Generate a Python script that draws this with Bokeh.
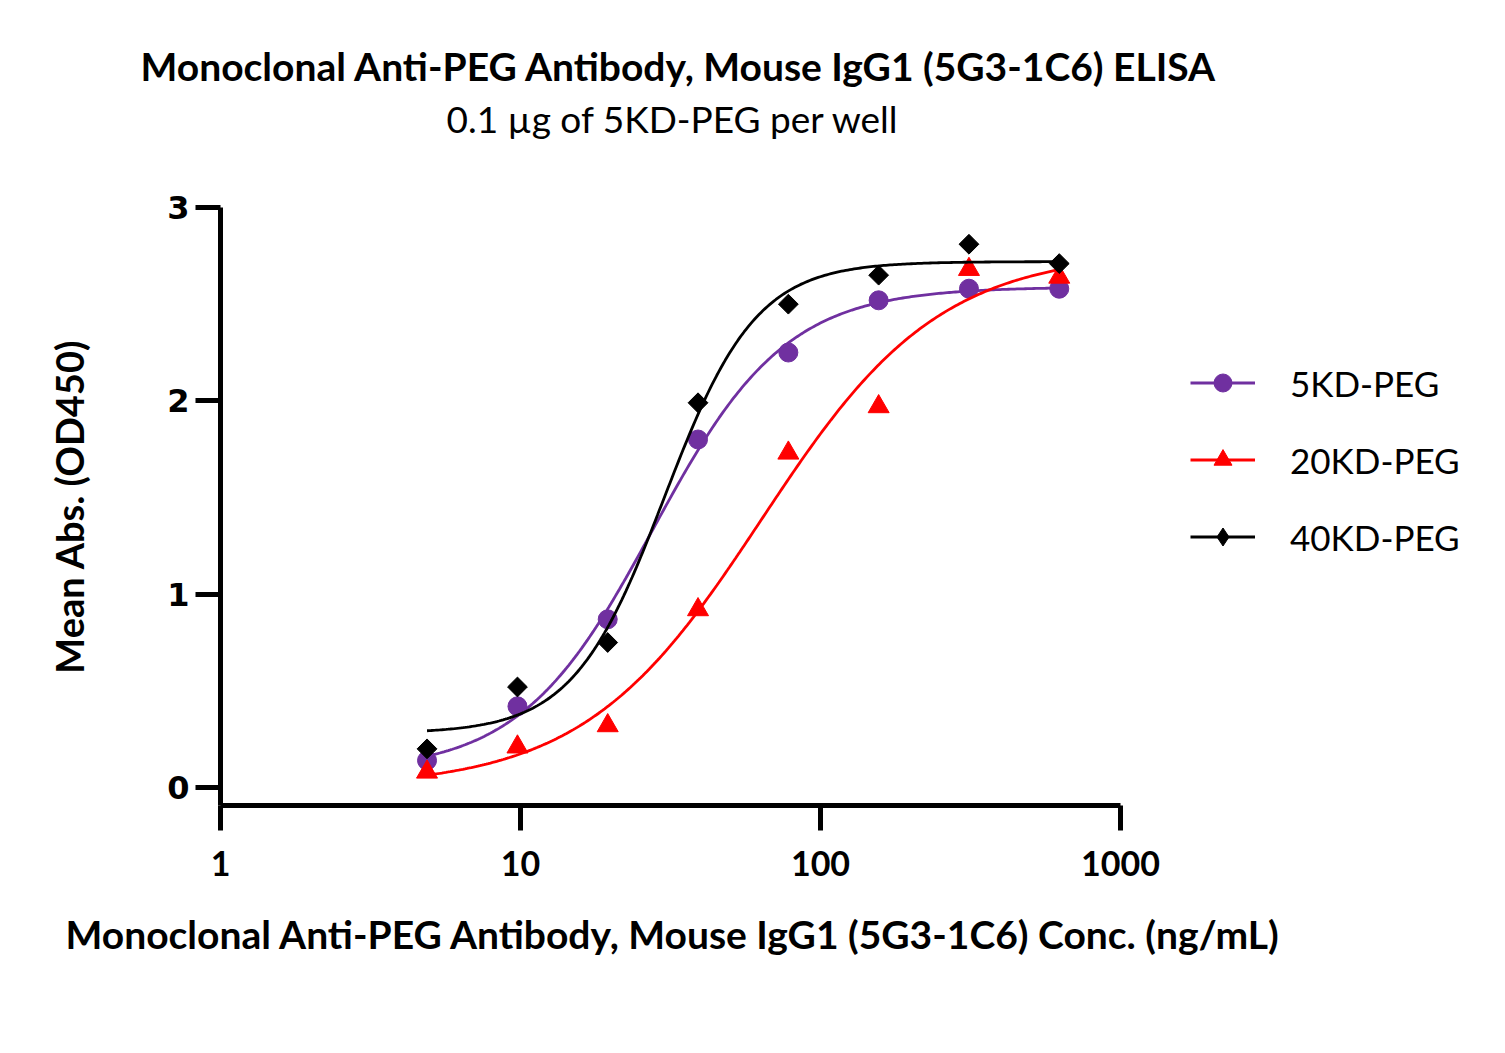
import numpy as np
from bokeh.plotting import figure
from bokeh.models import (Title, Legend, LegendItem, FixedTicker,
                          NumeralTickFormatter, ColumnDataSource)
from bokeh.embed import file_html
from bokeh.resources import INLINE

# ---- data ----
conc_ng_ml = [4.88, 9.77, 19.53, 39.06, 78.13, 156.25, 312.5, 625.0]
od_5kd = [0.14, 0.42, 0.87, 1.80, 2.25, 2.52, 2.58, 2.58]
od_20kd = [0.08, 0.21, 0.32, 0.92, 1.73, 1.97, 2.68, 2.64]
od_40kd = [0.20, 0.52, 0.75, 1.99, 2.50, 2.65, 2.81, 2.71]
series_names = ["5KD-PEG", "20KD-PEG", "40KD-PEG"]
x_ticks = [1, 10, 100, 1000]
y_ticks = [0, 1, 2, 3]

title_text = "Monoclonal Anti-PEG Antibody, Mouse IgG1 (5G3-1C6) ELISA"
subtitle_text = "0.1 \u00b5g of 5KD-PEG per well"
x_label = "Monoclonal Anti-PEG Antibody, Mouse IgG1 (5G3-1C6) Conc. (ng/mL)"
y_label = "Mean Abs. (OD450)"


def fit_4pl(x, y):
    """Four-parameter logistic least-squares fit (Levenberg-Marquardt)."""
    lx = np.log10(np.asarray(x, float))
    y = np.asarray(y, float)

    def f(p):
        b, t, c, h = p
        return b + (t - b) / (1.0 + 10.0 ** ((c - lx) * h))

    half = (y.min() + y.max()) / 2
    c0 = lx[np.argmin(np.abs(y - half))]
    p = np.array([y.min(), y.max(), c0, 1.5])
    lam = 1e-3
    for _ in range(800):
        r = y - f(p)
        J = np.empty((lx.size, 4))
        for k in range(4):
            dp = np.zeros(4)
            dp[k] = 1e-6
            J[:, k] = (f(p + dp) - f(p - dp)) / 2e-6
        A = J.T @ J
        g = J.T @ r
        try:
            step = np.linalg.solve(A + lam * np.diag(np.diag(A) + 1e-12), g)
        except np.linalg.LinAlgError:
            break
        pn = p + step
        if np.sum((y - f(pn)) ** 2) < np.sum(r ** 2):
            p = pn
            lam *= 0.3
        else:
            lam *= 10
    return p


def curve(x, p):
    b, t, c, h = p
    xs = np.logspace(np.log10(min(x)), np.log10(max(x)), 300)
    ys = b + (t - b) / (1.0 + 10.0 ** ((c - np.log10(xs)) * h))
    return xs, ys


FONT = "Lato"

W, H = 1490, 1045
LEFT, TOP, BOTTOM = 220, 207, 805
PX_PER_DECADE = 300.0
# frame runs to the right edge so the legend fits inside it; the axis itself
# is bounded to 1..1000
x_end = 10 ** ((W - LEFT) / PX_PER_DECADE)

p = figure(width=W, height=H, x_axis_type="log",
           x_range=(1, x_end), y_range=(-0.093, 3),
           output_backend="svg", toolbar_location=None,
           min_border_left=LEFT, min_border_right=0,
           min_border_top=TOP, min_border_bottom=H - BOTTOM)
p.outline_line_color = None
p.xgrid.grid_line_color = None
p.ygrid.grid_line_color = None
p.background_fill_color = "white"
p.border_fill_color = "white"

colors = ["#7030A0", "#FF0000", "#000000"]
markers = ["circle", "triangle", "square"]
legend_markers = ["circle", "triangle", "diamond"]
sizes = [19, 21, 14]
angles = [0, 0, np.pi / 4]
items = []
for name, ys, col, mk, lmk, sz, ang in zip(series_names, [od_5kd, od_20kd, od_40kd],
                                            colors, markers, legend_markers,
                                            sizes, angles):
    params = fit_4pl(conc_ng_ml, ys)
    cx, cy = curve(conc_ng_ml, params)
    lr = p.line(cx, cy, line_color=col, line_width=2.8)
    src = ColumnDataSource(dict(x=conc_ng_ml, y=ys))
    sr = p.scatter("x", "y", source=src, marker=mk, size=sz, angle=ang,
                   fill_color=col, line_color=col)
    if lmk != mk:
        # legend key glyph only (a non-drawable NaN point), so the key is a diamond
        sr = p.scatter(x=[np.nan], y=[np.nan], marker=lmk, size=sz,
                       fill_color=col, line_color=col)
    items.append(LegendItem(label=name, renderers=[lr, sr]))

# axes
for ax in (p.xaxis[0], p.yaxis[0]):
    ax.axis_line_width = 5
    ax.axis_line_color = "black"
    ax.major_tick_line_width = 5
    ax.major_tick_line_color = "black"
    ax.major_tick_out = 25
    ax.major_tick_in = 0
    ax.minor_tick_line_color = None
    ax.axis_label_text_font = FONT
    ax.axis_label_text_font_style = "bold"
    ax.axis_label_text_color = "black"
    ax.major_label_text_color = "black"

p.xaxis.bounds = (x_ticks[0], x_ticks[-1])
p.xaxis.ticker = FixedTicker(ticks=x_ticks)
p.xaxis.formatter = NumeralTickFormatter(format="0")
p.xaxis.major_label_text_font = FONT
p.xaxis.major_label_text_font_style = "bold"
p.xaxis.major_label_text_font_size = "34px"
p.xaxis.major_label_standoff = 20

p.yaxis.ticker = FixedTicker(ticks=y_ticks)
p.yaxis.major_label_text_font = "DejaVu Sans"
p.yaxis.major_label_text_font_style = "bold"
p.yaxis.major_label_text_font_size = "32px"
p.yaxis.major_label_standoff = 6
p.yaxis.major_label_orientation = "horizontal"
p.yaxis.axis_label = y_label
p.yaxis.axis_label_text_font_size = "38px"
p.yaxis.axis_label_standoff = 72

# x-axis title, placed under the bounded 1..1000 axis
p.add_layout(Title(text=x_label, align="left", offset=-155,
                   text_font=FONT, text_font_style="bold",
                   text_font_size="39px", text_color="black",
                   standoff=60), "below")

# titles (left-aligned with offsets so they sit centred over the 1..1000 axis)
p.add_layout(Title(text=subtitle_text, align="left", offset=226,
                   text_font=FONT, text_font_style="normal",
                   text_font_size="37px", text_color="black",
                   standoff=133), "above")
p.add_layout(Title(text=title_text, align="left", offset=-80,
                   text_font=FONT, text_font_style="bold",
                   text_font_size="39px", text_color="black",
                   standoff=-122), "above")

legend = Legend(items=items, location=(970, 246), padding=0, margin=0,
                border_line_color=None, background_fill_alpha=0,
                glyph_width=65, glyph_height=45, label_height=45,
                spacing=32, label_standoff=35,
                label_text_font=FONT, label_text_font_size="35px",
                label_text_color="black")
p.add_layout(legend, "center")

open("out.html", "w").write(file_html(p, INLINE))
